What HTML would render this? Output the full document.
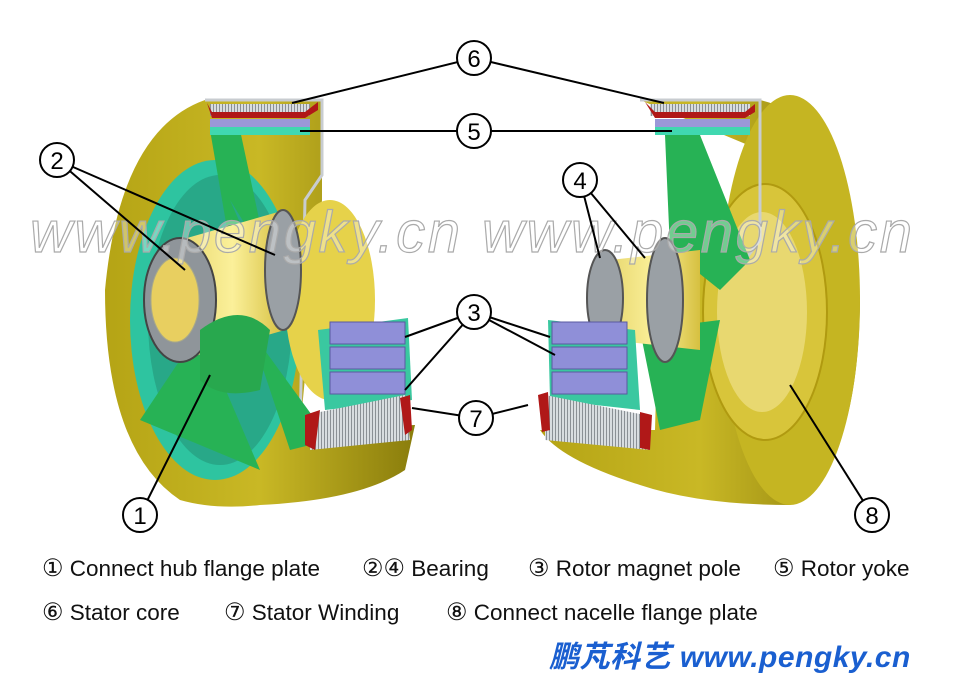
<!DOCTYPE html>
<html><head><meta charset="utf-8"><style>
body{margin:0;background:#fff;width:960px;height:680px;overflow:hidden;font-family:"Liberation Sans",Arial,sans-serif}
svg{position:absolute;left:0;top:0}
.lg{position:absolute;font-size:22.5px;color:#111;white-space:nowrap}
.lg b{font-weight:normal;font-size:24px}
.ft{position:absolute;left:549px;top:632px;font-size:30px;font-weight:bold;font-style:italic;color:#1a5fd0;white-space:nowrap;font-family:"Liberation Sans","Noto Sans CJK SC",sans-serif;letter-spacing:0.5px}
</style></head><body>
<svg width="960" height="680" viewBox="0 0 960 680">
<defs>
<linearGradient id="yl" x1="0" x2="1"><stop offset="0" stop-color="#b5a415"/><stop offset="0.5" stop-color="#c9b825"/><stop offset="1" stop-color="#8a7d0c"/></linearGradient>
<linearGradient id="hub" x1="0" x2="1"><stop offset="0" stop-color="#e8d870"/><stop offset="0.5" stop-color="#fbf09a"/><stop offset="1" stop-color="#d6c040"/></linearGradient>
<pattern id="st" width="3" height="4" patternUnits="userSpaceOnUse"><rect width="3" height="4" fill="#d8dde0"/><rect width="1" height="4" fill="#8a9095"/></pattern>
</defs>
<path d="M205,100 Q120,130 105,290 Q105,450 180,500 Q215,510 260,505 Q360,500 405,470 L415,425 L300,430 L322,200 L322,100 Z" fill="url(#yl)"/>
<path d="M205,100 L322,100 L322,175 L305,200 L300,430" fill="none" stroke="#c8ccd0" stroke-width="3"/>
<ellipse cx="215" cy="320" rx="85" ry="160" fill="#2ec4a0"/>
<ellipse cx="220" cy="320" rx="72" ry="145" fill="#28a888"/>
<path d="M140,420 L200,330 L260,470 Z M250,330 L330,440 L290,450 Z M230,200 L300,360 L320,345 Z M210,130 L240,130 L270,270 L235,275 Z M200,250 L150,300 L170,320 Z" fill="#27b255"/>
<ellipse cx="330" cy="300" rx="45" ry="100" fill="#e6d24a"/>
<path d="M180,240 L285,210 L285,330 L180,360 Z" fill="url(#hub)"/>
<ellipse cx="283" cy="270" rx="18" ry="60" fill="#9aa0a5" stroke="#555" stroke-width="2"/>
<ellipse cx="180" cy="300" rx="36" ry="62" fill="#8f959a" stroke="#444" stroke-width="2"/>
<ellipse cx="175" cy="300" rx="24" ry="42" fill="#e8cf60" stroke="#aa8"/>
<path d="M200,330 Q240,300 270,330 L260,390 Q220,400 200,380 Z" fill="#28a84e"/>
<rect x="210" y="104" width="100" height="12" fill="url(#st)"/>
<path d="M207,103 L212,112 L305,112 L318,102 L318,110 L305,118 L212,118 Z" fill="#b01818"/>
<rect x="210" y="119" width="100" height="8" fill="#9a98d8"/>
<rect x="210" y="127" width="100" height="8" fill="#40d8b0"/>
<path d="M318,330 L408,318 L412,400 L325,410 Z" fill="#3ac8a0"/>
<rect x="330" y="322" width="75" height="22" fill="#8f8fd8" stroke="#5a5aa0"/>
<rect x="330" y="347" width="75" height="22" fill="#8f8fd8" stroke="#5a5aa0"/>
<rect x="330" y="372" width="75" height="22" fill="#8f8fd8" stroke="#5a5aa0"/>
<path d="M305,415 L405,395 L410,440 L310,450 Z" fill="url(#st)"/>
<path d="M305,415 L320,410 L315,450 L305,445 Z M400,398 L410,395 L412,430 L405,435 Z" fill="#b01818"/>
<path d="M640,100 L760,100 Q850,120 860,300 Q858,470 790,505 Q700,505 640,485 Q560,460 540,430 L655,430 L660,250 L745,235 L760,150 Z" fill="url(#yl)"/>
<ellipse cx="790" cy="300" rx="70" ry="205" fill="#c5b522"/>
<ellipse cx="765" cy="312" rx="62" ry="128" fill="#d8c53a" stroke="#b09a10" stroke-width="2"/>
<ellipse cx="762" cy="312" rx="45" ry="100" fill="#e8d870"/>
<path d="M640,100 L760,100 L760,240 L745,260" fill="none" stroke="#c8ccd0" stroke-width="3"/>
<path d="M665,135 L700,135 L750,260 L720,290 L670,250 Z M640,330 L720,320 L700,420 L660,430 Z" fill="#27b255"/>
<path d="M610,260 L700,250 L700,350 L610,340 Z" fill="url(#hub)"/>
<ellipse cx="605" cy="298" rx="18" ry="48" fill="#9aa0a5" stroke="#555" stroke-width="2"/>
<ellipse cx="665" cy="300" rx="18" ry="62" fill="#9aa0a5" stroke="#555" stroke-width="2"/>
<rect x="650" y="104" width="100" height="12" fill="url(#st)"/>
<path d="M645,102 L655,112 L745,112 L755,104 L755,112 L745,118 L655,118 Z" fill="#b01818"/>
<rect x="655" y="119" width="95" height="8" fill="#9a98d8"/>
<rect x="655" y="127" width="95" height="8" fill="#40d8b0"/>
<path d="M548,320 L635,330 L640,410 L550,400 Z" fill="#3ac8a0"/>
<rect x="552" y="322" width="75" height="22" fill="#8f8fd8" stroke="#5a5aa0"/>
<rect x="552" y="347" width="75" height="22" fill="#8f8fd8" stroke="#5a5aa0"/>
<rect x="552" y="372" width="75" height="22" fill="#8f8fd8" stroke="#5a5aa0"/>
<path d="M545,395 L645,415 L650,450 L545,440 Z" fill="url(#st)"/>
<path d="M538,395 L548,392 L550,430 L542,432 Z M640,412 L652,415 L650,450 L640,448 Z" fill="#b01818"/>
<text x="30" y="252" font-size="58" font-style="italic" font-family="Liberation Sans" fill="#fff" fill-opacity="0.35" stroke="#aaa" stroke-width="1.2" textLength="430">www.pengky.cn</text>
<text x="482" y="252" font-size="58" font-style="italic" font-family="Liberation Sans" fill="#fff" fill-opacity="0.35" stroke="#aaa" stroke-width="1.2" textLength="430">www.pengky.cn</text>
<g stroke="#000" stroke-width="2" fill="none">
<path d="M292,103 L474,58 L664,103"/><path d="M300,131 L474,131 L672,131"/>
<path d="M185,270 L57,160 L275,255"/><path d="M600,258 L580,180 L645,258"/>
<path d="M405,337 L474,312 L405,390 M474,312 L550,337 M474,312 L555,355"/>
<path d="M412,408 L476,418 L528,405"/><path d="M210,375 L140,515"/><path d="M790,385 L872,515"/>
</g>
<g fill="#fff" stroke="#000" stroke-width="2">
<circle cx="474" cy="58" r="17"/><circle cx="474" cy="131" r="17"/><circle cx="57" cy="160" r="17"/><circle cx="580" cy="180" r="17"/><circle cx="474" cy="312" r="17"/><circle cx="476" cy="418" r="17"/><circle cx="140" cy="515" r="17"/><circle cx="872" cy="515" r="17"/>
</g>
<g fill="#000" font-size="24" font-family="Liberation Sans" text-anchor="middle">
<text x="474" y="67">6</text><text x="474" y="140">5</text><text x="57" y="169">2</text><text x="580" y="189">4</text><text x="474" y="321">3</text><text x="476" y="427">7</text><text x="140" y="524">1</text><text x="872" y="524">8</text>
</g>
</svg>
<div class="lg" style="left:42px;top:554px"><b>①</b> Connect hub flange plate</div>
<div class="lg" style="left:362px;top:554px"><b>②④</b> Bearing</div>
<div class="lg" style="left:528px;top:554px"><b>③</b> Rotor magnet pole</div>
<div class="lg" style="left:773px;top:554px"><b>⑤</b> Rotor yoke</div>
<div class="lg" style="left:42px;top:598px"><b>⑥</b> Stator core</div>
<div class="lg" style="left:224px;top:598px"><b>⑦</b> Stator Winding</div>
<div class="lg" style="left:446px;top:598px"><b>⑧</b> Connect nacelle flange plate</div>
<div class="ft">鹏芃科艺 www.pengky.cn</div>
</body></html>
